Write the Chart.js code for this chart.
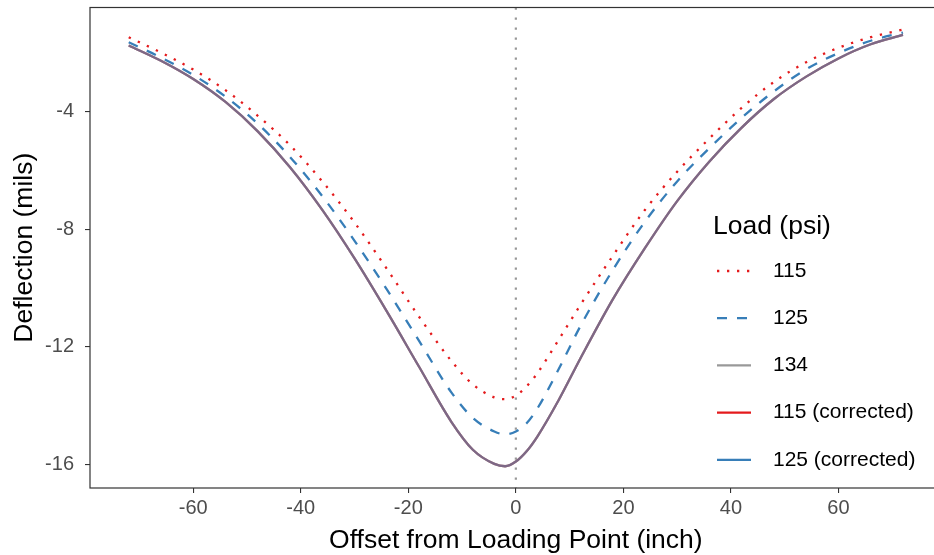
<!DOCTYPE html>
<html>
<head>
<meta charset="utf-8">
<title>Deflection vs offset</title>
<script src="https://cdn.jsdelivr.net/npm/chart.js@4.4.1/dist/chart.umd.min.js"></script>
<style>
  html, body { margin: 0; padding: 0; background: #ffffff; overflow: hidden; }
  #wrap { width: 950px; height: 555px; }
</style>
</head>
<body>
<div id="wrap"><canvas id="chart" width="950" height="555"></canvas></div>
<script>
// Offset from the loading point (inch)
const offsets = [-72, -66, -60, -54, -48, -42, -36, -30, -24, -18, -12, -8, -4, -2, 0,
                 2, 4, 8, 12, 18, 24, 30, 36, 42, 48, 54, 60, 66, 72];

// Deflection (mils) for each load level
const load115 = [-1.48, -2.00, -2.58, -3.28, -4.15, -5.15, -6.38, -7.78, -9.35, -10.98, -12.48, -13.28, -13.72, -13.78, -13.66,
                 -13.35, -12.90, -11.75, -10.58, -8.92, -7.35, -6.05, -4.92, -3.88, -3.00, -2.33, -1.84, -1.48, -1.22];
const load125 = [-1.65, -2.17, -2.76, -3.50, -4.42, -5.55, -6.88, -8.40, -10.05, -11.80, -13.55, -14.42, -14.88, -14.98, -14.88,
                 -14.60, -14.10, -12.75, -11.30, -9.40, -7.75, -6.38, -5.25, -4.22, -3.32, -2.57, -2.02, -1.60, -1.32];
const load134 = [-1.76, -2.28, -2.90, -3.68, -4.68, -5.90, -7.35, -9.00, -10.80, -12.68, -14.55, -15.50, -15.98, -16.06, -15.90,
                 -15.55, -15.05, -13.80, -12.40, -10.40, -8.65, -7.05, -5.70, -4.55, -3.58, -2.82, -2.20, -1.72, -1.40];
const load115Corrected = [-1.76, -2.28, -2.90, -3.68, -4.68, -5.90, -7.35, -9.00, -10.80, -12.68, -14.55, -15.50, -15.98, -16.06, -15.90,
                          -15.55, -15.05, -13.80, -12.40, -10.40, -8.65, -7.05, -5.70, -4.55, -3.58, -2.82, -2.20, -1.72, -1.40];
const load125Corrected = [-1.76, -2.28, -2.90, -3.68, -4.68, -5.90, -7.35, -9.00, -10.80, -12.68, -14.55, -15.50, -15.98, -16.06, -15.90,
                          -15.55, -15.05, -13.80, -12.40, -10.40, -8.65, -7.05, -5.70, -4.55, -3.58, -2.82, -2.20, -1.72, -1.40];

const seriesLabels = ['115', '125', '134', '115 (corrected)', '125 (corrected)'];
const xTicks = [-60, -40, -20, 0, 20, 40, 60];
const yTicks = [-16, -12, -8, -4];

const FONT = "'Liberation Sans', Arial, Helvetica, sans-serif";
const RED = '#E41A1C';
const BLUE = '#377EB8';
const GREY = '#999999';

const toPoints = ys => offsets.map((x, i) => ({ x: x, y: ys[i] }));

const lineBase = {
  pointRadius: 0,
  pointHoverRadius: 0,
  fill: false,
  cubicInterpolationMode: 'monotone',
  borderWidth: 2.3
};

// Legend key styles (drawn by the plugin below)
const legendKeys = [
  { color: RED, dash: [2.3, 7.7] },
  { color: BLUE, dash: [10, 10] },
  { color: GREY, dash: [] },
  { color: RED, dash: [] },
  { color: BLUE, dash: [] }
];

// Fixed axis sizes, without the extra room Chart.js keeps for edge labels
const fixAxis = (size, horizontal) => s => {
  if (horizontal) { s.height = size; } else { s.width = size; }
  s.paddingTop = 0; s.paddingBottom = 0; s.paddingLeft = 0; s.paddingRight = 0;
};

// Dotted reference line at the loading point, plus the panel frame
const panelPlugin = {
  id: 'panel',
  beforeDatasetsDraw(chart) {
    const { ctx, chartArea, scales } = chart;
    const x0 = scales.x.getPixelForValue(0);
    ctx.save();
    ctx.strokeStyle = GREY;
    ctx.lineWidth = 2.2;
    ctx.setLineDash([2.2, 7.8]);
    ctx.beginPath();
    ctx.moveTo(x0, chartArea.top);
    ctx.lineTo(x0, chartArea.bottom);
    ctx.stroke();
    ctx.restore();
  },
  afterDraw(chart) {
    const { ctx, chartArea } = chart;
    ctx.save();
    ctx.strokeStyle = '#333333';
    ctx.lineWidth = 1.2;
    ctx.strokeRect(chartArea.left, chartArea.top,
                   chartArea.right - chartArea.left, chartArea.bottom - chartArea.top);
    ctx.restore();
  }
};

// Legend placed inside the panel
const legendPlugin = {
  id: 'insetLegend',
  afterDraw(chart) {
    const { ctx } = chart;
    const left = 713;
    ctx.save();
    ctx.fillStyle = '#000000';
    ctx.textBaseline = 'middle';
    ctx.textAlign = 'left';
    ctx.font = '26.5px ' + FONT;
    ctx.fillText('Load (psi)', left, 227);
    ctx.font = '21px ' + FONT;
    seriesLabels.forEach((label, i) => {
      const y = 271 + i * 47.2;
      const k = legendKeys[i];
      ctx.strokeStyle = k.color;
      ctx.lineWidth = 2.3;
      ctx.lineCap = 'butt';
      ctx.setLineDash(k.dash);
      ctx.beginPath();
      ctx.moveTo(717, y);
      ctx.lineTo(751, y);
      ctx.stroke();
      ctx.setLineDash([]);
      ctx.fillStyle = '#000000';
      ctx.fillText(label, 773, y);
    });
    ctx.restore();
  }
};

// Higher "order" is drawn first, so the corrected curves end up on top.
new Chart(document.getElementById('chart'), {
  type: 'line',
  data: {
    datasets: [
      Object.assign({}, lineBase, { label: seriesLabels[0], data: toPoints(load115), order: 4,
        borderColor: RED, borderDash: [2.3, 7.7] }),
      Object.assign({}, lineBase, { label: seriesLabels[1], data: toPoints(load125), order: 3,
        borderColor: BLUE, borderDash: [10, 10] }),
      Object.assign({}, lineBase, { label: seriesLabels[2], data: toPoints(load134), order: 2,
        borderColor: GREY }),
      Object.assign({}, lineBase, { label: seriesLabels[3], data: toPoints(load115Corrected), order: 1,
        borderColor: 'rgba(228,26,28,0.55)' }),
      Object.assign({}, lineBase, { label: seriesLabels[4], data: toPoints(load125Corrected), order: 0,
        borderColor: 'rgba(55,126,184,0.5)' })
    ]
  },
  options: {
    responsive: false,
    animation: false,
    devicePixelRatio: 1,
    layout: { autoPadding: false, padding: { top: 7.5, right: 8.3, left: 0, bottom: 0 } },
    plugins: {
      legend: { display: false },
      tooltip: { enabled: false }
    },
    scales: {
      x: {
        type: 'linear',
        min: -79.2,
        max: 79.2,
        afterBuildTicks: s => { s.ticks = xTicks.map(v => ({ value: v })); },
        afterFit: fixAxis(67, true),
        grid: { display: true, drawOnChartArea: false, drawTicks: true, tickLength: 5,
                color: '#333333', lineWidth: 1.1 },
        border: { display: false },
        ticks: { color: '#4D4D4D', font: { family: FONT, size: 20 }, padding: 3,
                 maxRotation: 0, autoSkip: false },
        title: { display: true, text: 'Offset from Loading Point (inch)', color: '#000000',
                 font: { family: FONT, size: 26.5 }, padding: { top: 0, bottom: -2 } }
      },
      y: {
        type: 'linear',
        min: -16.80,
        max: -0.47,
        afterBuildTicks: s => { s.ticks = yTicks.map(v => ({ value: v })); },
        afterFit: fixAxis(90, false),
        grid: { display: true, drawOnChartArea: false, drawTicks: true, tickLength: 5,
                color: '#333333', lineWidth: 1.1 },
        border: { display: false },
        ticks: { color: '#4D4D4D', font: { family: FONT, size: 20 }, padding: 11 },
        title: { display: true, text: 'Deflection (mils)', color: '#000000',
                 font: { family: FONT, size: 26.5 }, padding: { top: 9, bottom: 0 } }
      }
    }
  },
  plugins: [panelPlugin, legendPlugin]
});
</script>
</body>
</html>
